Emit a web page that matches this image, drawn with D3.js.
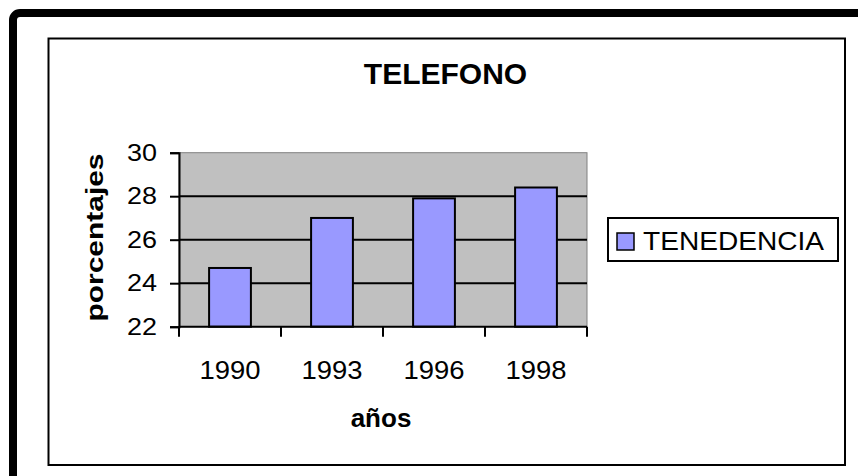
<!DOCTYPE html>
<html>
<head>
<meta charset="utf-8">
<script src="https://cdn.jsdelivr.net/npm/d3@7"></script>
<style>
  html,body{margin:0;padding:0;background:#fff;overflow:hidden;}
  text{font-family:"Liberation Sans",Arial,sans-serif;fill:#000;}
</style>
</head>
<body>
<div id="chart"></div>
<script>
// data
const years = ['1990','1993','1996','1998'];
const tenencia = [24.7, 27.0, 27.9, 28.4];
const yTicks = [22, 24, 26, 28, 30];
const seriesName = 'TENEDENCIA';

const W = 858, H = 476;
const svg = d3.select('#chart').append('svg').attr('width', W).attr('height', H);

// outer frame (cut off at right/bottom like the picture)
svg.append('rect').attr('x',13).attr('y',13).attr('width',900).attr('height',520)
  .attr('rx',7).attr('fill','none').attr('stroke','#000').attr('stroke-width',8);

// chart area box
svg.append('rect').attr('x',48.5).attr('y',38.5).attr('width',796.5).attr('height',426.5)
  .attr('fill','#fff').attr('stroke','#000').attr('stroke-width',2);

const plot = {l:179, r:587, t:152.7, b:326.7};
const x = d3.scaleBand().domain(years).range([plot.l, plot.r]).paddingInner(0.59).paddingOuter(0.295);
const y = d3.scaleLinear().domain([22,30]).range([plot.b, plot.t]);

const g = svg.append('g');

// plot background
g.append('rect').attr('x',plot.l).attr('y',plot.t).attr('width',plot.r-plot.l).attr('height',plot.b-plot.t)
  .attr('fill','#c0c0c0').attr('stroke','#808080').attr('stroke-width',1);

// gridlines
g.selectAll('.grid').data(yTicks.filter(d=>d>22 && d<30)).enter().append('line')
  .attr('x1',plot.l).attr('x2',plot.r).attr('y1',d=>y(d)).attr('y2',d=>y(d))
  .attr('stroke','#000').attr('stroke-width',2);

// bars
g.selectAll('.bar').data(tenencia).enter().append('rect')
  .attr('x',(d,i)=>x(years[i])).attr('width',x.bandwidth())
  .attr('y',d=>y(d)).attr('height',d=>y(22)-y(d))
  .attr('fill','#9999ff').attr('stroke','#000').attr('stroke-width',2);

// y axis
const yAxis = d3.axisLeft(y).tickValues(yTicks).tickSize(9).tickPadding(13);
const ya = svg.append('g').attr('transform',`translate(${plot.l},0)`).call(yAxis);
ya.select('.domain').attr('stroke','#000').attr('stroke-width',2);
ya.selectAll('.tick line').attr('stroke','#000').attr('stroke-width',2);
ya.selectAll('.tick text').attr('font-size',24).attr('fill','#000')
  .attr('textLength',30).attr('lengthAdjust','spacingAndGlyphs');

// x axis: ticks on category boundaries
const xb = svg.append('g').attr('transform',`translate(0,${plot.b})`);
xb.append('line').attr('x1',plot.l).attr('x2',plot.r).attr('stroke','#000').attr('stroke-width',2);
const bounds = d3.range(years.length+1).map(i=>plot.l + i*x.step());
xb.selectAll('.xt').data(bounds).enter().append('line')
  .attr('x1',d=>d).attr('x2',d=>d).attr('y1',0).attr('y2',10)
  .attr('stroke','#000').attr('stroke-width',2);
xb.selectAll('.xl').data(years).enter().append('text')
  .attr('x',d=>x(d)+x.bandwidth()/2).attr('y',52).attr('text-anchor','middle')
  .attr('font-size',25).attr('textLength',61).attr('lengthAdjust','spacingAndGlyphs')
  .text(d=>d);

// titles
svg.append('text').attr('x',445.5).attr('y',84).attr('text-anchor','middle')
  .attr('font-size',30).attr('font-weight','bold').text('TELEFONO');
svg.append('text').attr('x',381).attr('y',427).attr('text-anchor','middle')
  .attr('font-size',26).attr('font-weight','bold').text('años');
svg.append('text').attr('transform','translate(103,237.5) rotate(-90)').attr('text-anchor','middle')
  .attr('font-size',23).attr('font-weight','bold')
  .attr('textLength',168).attr('lengthAdjust','spacingAndGlyphs').text('porcentajes');

// legend
const lg = svg.append('g').attr('transform','translate(608,218)');
lg.append('rect').attr('width',230).attr('height',43).attr('fill','#fff').attr('stroke','#000').attr('stroke-width',2);
lg.append('rect').attr('x',9).attr('y',15).attr('width',17).attr('height',17)
  .attr('fill','#9999ff').attr('stroke','#000').attr('stroke-width',1.5);
lg.append('text').attr('x',35).attr('y',32).attr('font-size',25)
  .attr('textLength',181).attr('lengthAdjust','spacingAndGlyphs').text(seriesName);
</script>
</body>
</html>
